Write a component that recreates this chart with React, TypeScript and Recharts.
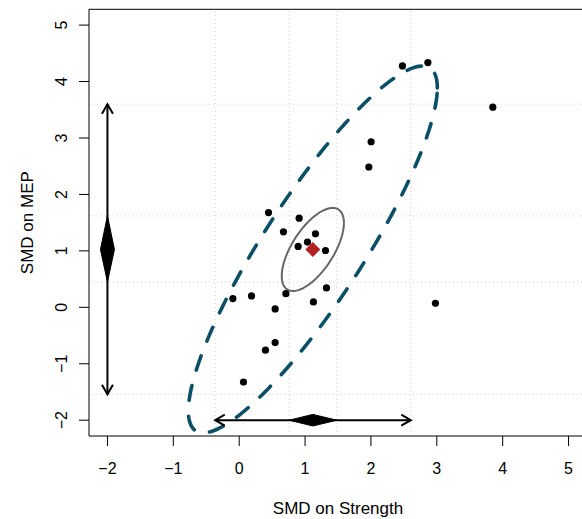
import { ComposedChart, Scatter, XAxis, YAxis, ReferenceLine, Label } from "recharts";

// study effects (SMD on strength, SMD on MEP)
const strengthSmd = [2.478, 2.864, 3.85, 2.003, 1.968, 0.445, 0.91, 0.672, 1.158, 1.036, 0.895, 1.31, -0.096, 0.187, 0.709, 1.325, 1.127, 2.979, 0.546, 0.546, 0.399, 0.065];
const mepSmd = [4.276, 4.336, 3.546, 2.933, 2.486, 1.678, 1.58, 1.337, 1.302, 1.155, 1.078, 1.007, 0.154, 0.201, 0.242, 0.343, 0.095, 0.071, -0.028, -0.624, -0.76, -1.325];

// pooled estimate and intervals
const pooledStrength = 1.118;
const pooledMep = 1.025;
const ciStrength = [0.759, 1.483];
const piStrength = [-0.364, 2.605];
const ciMep = [0.449, 1.62];
const piMep = [-1.542, 3.599];

// confidence / prediction regions: sd-like half widths and correlation
const confRegion = [0.472, 0.736, 0.64];
const predRegion = [1.89, 3.25, 0.88];

const axisTicks = [-2, -1, 0, 1, 2, 3, 4, 5];
const DOMAIN: [number, number] = [-2.28, 5.28];

const FONT = "'Liberation Sans', Arial, Helvetica, sans-serif";
const PRED_COLOR = "#0b4f66";

const W = 600;
const H = 519;
const PLOT_LEFT = 89;
const PLOT_RIGHT = 587;
const PLOT_TOP = 9.3;
const PLOT_BOTTOM = 436;

const pxX = (PLOT_RIGHT - PLOT_LEFT) / (DOMAIN[1] - DOMAIN[0]);
const pxY = (PLOT_BOTTOM - PLOT_TOP) / (DOMAIN[1] - DOMAIN[0]);

const studies = strengthSmd.map((x, i) => ({ x, y: mepSmd[i] }));

function ellipse(r: number[]) {
  const [sx, sy, rho] = r;
  const pts = [];
  for (let i = 0; i <= 120; i++) {
    const t = (i / 120) * Math.PI * 2;
    pts.push({
      x: pooledStrength + sx * Math.cos(t),
      y: pooledMep + sy * (rho * Math.cos(t) + Math.sqrt(1 - rho * rho) * Math.sin(t)),
    });
  }
  return pts;
}

// diamond half-width in pixels converted to data units
const dW = 7 / pxX;
const dH = 5.8 / pxY;

const vDiamond = [
  { x: -2, y: ciMep[0] },
  { x: -2 + dW, y: pooledMep },
  { x: -2, y: ciMep[1] },
  { x: -2 - dW, y: pooledMep },
  { x: -2, y: ciMep[0] },
];
const hDiamond = [
  { x: ciStrength[0], y: -2 },
  { x: pooledStrength, y: -2 + dH },
  { x: ciStrength[1], y: -2 },
  { x: pooledStrength, y: -2 - dH },
  { x: ciStrength[0], y: -2 },
];

const headLen = 9.5;
const headHalf = 5.5;
const arrowLines = [
  [{ x: -2, y: piMep[0] }, { x: -2, y: piMep[1] }],
  [{ x: -2 - headHalf / pxX, y: piMep[1] - headLen / pxY }, { x: -2, y: piMep[1] }, { x: -2 + headHalf / pxX, y: piMep[1] - headLen / pxY }],
  [{ x: -2 - headHalf / pxX, y: piMep[0] + headLen / pxY }, { x: -2, y: piMep[0] }, { x: -2 + headHalf / pxX, y: piMep[0] + headLen / pxY }],
  [{ x: piStrength[0], y: -2 }, { x: piStrength[1], y: -2 }],
  [{ x: piStrength[0] + headLen / pxX, y: -2 + headHalf / pxY }, { x: piStrength[0], y: -2 }, { x: piStrength[0] + headLen / pxX, y: -2 - headHalf / pxY }],
  [{ x: piStrength[1] - headLen / pxX, y: -2 + headHalf / pxY }, { x: piStrength[1], y: -2 }, { x: piStrength[1] - headLen / pxX, y: -2 - headHalf / pxY }],
];

const fmt = (v: number) => (v < 0 ? "\u2212" + Math.abs(v) : String(v));

const XTick = (props: any) => (
  <text x={props.x} y={474} textAnchor="middle" fontSize={16} fontFamily={FONT} fill="#000">
    {fmt(props.payload.value)}
  </text>
);

const YTick = (props: any) => (
  <text transform={`translate(67, ${props.y}) rotate(-90)`} textAnchor="middle" fontSize={16} fontFamily={FONT} fill="#000">
    {fmt(props.payload.value)}
  </text>
);

const none = () => <g />;

export default function App() {
  return (
    <div style={{ position: "fixed", left: 0, top: 0, width: 582, height: 519, overflow: "hidden", background: "#fff" }}>
      <ComposedChart width={W} height={H} margin={{ top: PLOT_TOP, right: W - PLOT_RIGHT, bottom: 0, left: 0 }}>
        <XAxis
          type="number"
          dataKey="x"
          domain={DOMAIN}
          ticks={axisTicks}
          allowDataOverflow
          height={H - PLOT_BOTTOM}
          tickSize={10}
          tick={XTick}
          stroke="#000"
          tickLine={{ stroke: "#000" }}
          axisLine={{ stroke: "#000" }}
        >
          <Label
            content={() => (
              <text x={(PLOT_LEFT + PLOT_RIGHT) / 2} y={514} textAnchor="middle" fontSize={17} fontFamily={FONT} fill="#000">
                SMD on Strength
              </text>
            )}
          />
        </XAxis>
        <YAxis
          type="number"
          dataKey="y"
          domain={DOMAIN}
          ticks={axisTicks}
          allowDataOverflow
          width={PLOT_LEFT}
          tickSize={10}
          tick={YTick}
          stroke="#000"
          tickLine={{ stroke: "#000" }}
          axisLine={{ stroke: "#000" }}
        >
          <Label
            content={() => (
              <text
                transform={`translate(33, ${(PLOT_TOP + PLOT_BOTTOM) / 2}) rotate(-90)`}
                textAnchor="middle"
                fontSize={17}
                fontFamily={FONT}
                fill="#000"
              >
                SMD on MEP
              </text>
            )}
          />
        </YAxis>
        <ReferenceLine y={DOMAIN[1]} stroke="#000" />
        <ReferenceLine x={DOMAIN[1]} stroke="#000" />

        {[...ciStrength, ...piStrength].map((v) => (
          <ReferenceLine key={"vx" + v} x={v} stroke="#cfcfcf" strokeDasharray="1 3" />
        ))}
        {[...ciMep, ...piMep].map((v) => (
          <ReferenceLine key={"hy" + v} y={v} stroke="#cfcfcf" strokeDasharray="1 3" />
        ))}

        <Scatter
          data={ellipse(predRegion)}
          isAnimationActive={false}
          shape={none}
          line={{ stroke: PRED_COLOR, strokeWidth: 3.6, strokeDasharray: "15 16", strokeLinecap: "round", fill: "none" }}
        />
        <Scatter
          data={ellipse(confRegion)}
          isAnimationActive={false}
          shape={none}
          line={{ stroke: "#666666", strokeWidth: 2, fill: "none" }}
        />

        {arrowLines.map((seg, i) => (
          <Scatter
            key={"ar" + i}
            data={seg}
            isAnimationActive={false}
            shape={none}
            line={{ stroke: "#000", strokeWidth: 2, fill: "none" }}
          />
        ))}
        <Scatter data={vDiamond} isAnimationActive={false} shape={none} line={{ stroke: "#000", strokeWidth: 1, fill: "#000" }} />
        <Scatter data={hDiamond} isAnimationActive={false} shape={none} line={{ stroke: "#000", strokeWidth: 1, fill: "#000" }} />

        <Scatter
          data={studies}
          isAnimationActive={false}
          shape={(p: any) => <circle cx={p.cx} cy={p.cy} r={3.6} fill="#000" />}
        />
        <Scatter
          data={[{ x: pooledStrength, y: pooledMep }]}
          isAnimationActive={false}
          shape={(p: any) => (
            <polygon
              points={`${p.cx},${p.cy - 7.5} ${p.cx + 7.5},${p.cy} ${p.cx},${p.cy + 7.5} ${p.cx - 7.5},${p.cy}`}
              fill="#b22222"
            />
          )}
        />
      </ComposedChart>
    </div>
  );
}
